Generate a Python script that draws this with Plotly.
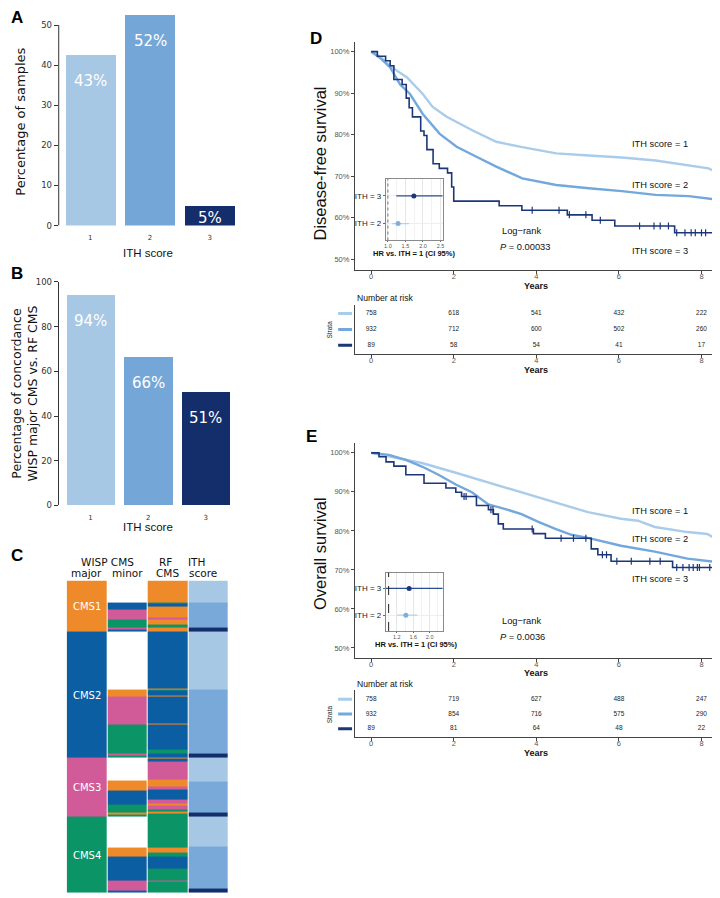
import plotly.graph_objects as go

# page is shown with an 8px body margin: the figure covers reference pixels 8..720 / 8..898
OFF = 8
W, H = 720, 898
FW, FH = W - OFF, H - OFF

# ---------------- data ----------------
ith_scores = [1, 2, 3]
ith_tick_labels = ["1", "2", "3"]
pct_samples = [42.6, 52.4, 5.0]          # panel A
pct_concordance = [94.2, 66.4, 50.6]     # panel B

# panel C : runs (category, number of rows) from top to bottom for each column
wisp_major_runs = [("CMS1", 52), ("CMS2", 127), ("CMS3", 60), ("CMS4", 77)]
wisp_minor_runs = [
    ("none", 22), ("CMS2", 7), ("CMS3", 10), ("CMS4", 9), ("CMS3", 2), ("CMS2", 2),
    ("none", 58), ("CMS1", 7), ("CMS3", 29), ("CMS4", 29), ("CMS3", 2), ("CMS4", 2),
    ("none", 23), ("CMS1", 10), ("CMS2", 15), ("CMS4", 8), ("CMS1", 2), ("CMS4", 2),
    ("none", 31), ("CMS1", 9), ("CMS2", 24), ("CMS3", 8), ("CMS1", 1), ("CMS3", 2), ("CMS2", 2),
]
rf_cms_runs = [
    ("CMS1", 22), ("CMS4", 1), ("CMS2", 3), ("CMS1", 11), ("CMS3", 2), ("CMS1", 6), ("CMS4", 3), ("CMS1", 4),
    ("CMS2", 57), ("CMS1", 1), ("CMS4", 1), ("CMS2", 5), ("CMS1", 1), ("CMS2", 28), ("CMS1", 1), ("CMS2", 25),
    ("CMS4", 4), ("CMS2", 4),
    ("CMS1", 1), ("CMS2", 3), ("CMS3", 18), ("CMS1", 7), ("CMS3", 3), ("CMS2", 10), ("CMS3", 5), ("CMS1", 2),
    ("CMS3", 4), ("CMS4", 2), ("CMS1", 2), ("CMS4", 3),
    ("CMS4", 31), ("CMS1", 5), ("CMS4", 4), ("CMS2", 12), ("CMS4", 12), ("CMS3", 1), ("CMS4", 7), ("CMS1", 1),
    ("CMS4", 4),
]
ith_runs = [
    ("ITH1", 22), ("ITH2", 26), ("ITH3", 4),
    ("ITH1", 58), ("ITH2", 65), ("ITH3", 4),
    ("ITH1", 24), ("ITH2", 32), ("ITH3", 4),
    ("ITH1", 30), ("ITH2", 42), ("ITH3", 5),
]

# panel D : disease-free survival (years, %)
dfs_t1 = [0, 0.1, 0.25, 0.46, 0.87, 1.25, 1.49, 1.83, 2.46, 3.03, 3.66, 4.48, 5.27, 6.07, 6.89, 7.69, 8.17, 8.45]
dfs_s1 = [100, 99.5, 98.5, 96.5, 93.8, 89.8, 86.7, 84.3, 81.0, 78.3, 77.0, 75.5, 75.0, 74.5, 73.8, 72.6, 71.9, 70.6]
dfs_t2 = [0, 0.1, 0.25, 0.46, 0.7, 0.94, 1.25, 1.66, 2.07, 2.55, 3.03, 3.66, 4.48, 5.27, 6.07, 6.89, 7.69, 8.45]
dfs_s2 = [100, 99.3, 98.2, 96.2, 92.1, 89.8, 85.0, 80.2, 77.1, 74.7, 72.3, 69.5, 67.9, 67.1, 66.4, 65.5, 65.2, 64.3]
dfs_t3 = [0, 0.15, 0.35, 0.46, 0.55, 0.75, 0.85, 0.92, 1.0, 1.2, 1.28, 1.35, 1.5, 1.65, 1.85, 1.95, 2.0,
          3.1, 3.65, 4.75, 5.35, 5.9, 7.35, 8.5]
dfs_s3 = [100, 98.9, 97.8, 96.6, 93.3, 92.1, 88.8, 86.5, 84.3, 80.9, 79.8, 76.4, 73.0, 71.9, 70.8, 67.4, 64.0,
          62.9, 61.8, 60.7, 59.4, 58.0, 56.4, 56.4]
dfs_cens3 = [3.9, 4.55, 4.8, 5.2, 5.55, 6.5, 6.85, 7.0, 7.2, 7.4, 7.6, 7.75, 7.85, 8.0, 8.1, 8.3]

# panel E : overall survival (years, %)
os_t1 = [0, 0.43, 1.23, 2.05, 2.84, 3.64, 4.46, 5.25, 6.05, 6.46, 6.87, 7.66, 8.14, 8.45]
os_s1 = [100, 99.1, 97.4, 94.9, 92.4, 89.9, 87.3, 84.8, 83.1, 82.6, 81.0, 79.7, 79.2, 77.4]
os_t2 = [0, 0.43, 0.84, 1.23, 1.63, 2.05, 2.44, 2.84, 3.25, 3.64, 4.05, 4.46, 4.85, 5.25, 6.05, 6.87, 7.66, 8.45]
os_s2 = [100, 99.5, 98.2, 96.5, 94.4, 91.9, 89.9, 86.8, 85.6, 84.3, 82.3, 80.5, 79.0, 78.2, 76.2, 74.7, 72.9, 71.9]
os_t3 = [0, 0.19, 0.36, 0.55, 0.84, 1.28, 1.81, 2.05, 2.19, 2.55, 2.84, 2.96, 3.08, 3.2, 3.93, 4.22,
         5.33, 5.49, 5.81, 7.3, 8.5]
os_s3 = [100, 99.0, 97.7, 96.6, 94.4, 92.2, 91.0, 89.9, 88.8, 86.5, 85.4, 84.3, 81.8, 80.5, 79.3, 78.1,
         75.4, 73.9, 72.2, 70.6, 70.6]
os_cens3 = [2.25, 2.3, 2.9, 2.95, 3.9, 4.6, 4.9, 5.2, 5.6, 5.7, 5.95, 6.3, 6.75, 7.0, 7.4, 7.55, 7.7, 7.8,
            7.9, 7.95, 8.2]

# hazard ratios vs ITH = 1 (ITH = 2, ITH = 3)
hr_labels = ["ITH = 2", "ITH = 3"]
dfs_hr = [1.29, 1.74]
dfs_lo = [1.12, 1.24]
dfs_hi = [1.60, 2.60]
os_hr = [1.42, 1.50]
os_lo = [1.20, 0.90]
os_hi = [1.70, 2.40]

risk_years = [0, 2, 4, 6, 8]
surv_ticks = [50, 60, 70, 80, 90, 100]
dfs_risk = [[758, 618, 541, 432, 222], [932, 712, 600, 502, 260], [89, 58, 54, 41, 17]]
os_risk = [[758, 719, 627, 488, 247], [932, 854, 716, 575, 290], [89, 81, 64, 48, 22]]
km_labels = ["ITH score = 1", "ITH score = 2", "ITH score = 3"]
dfs_p = "0.00033"
os_p = "0.0036"

# ---------------- style ----------------
BAR_COLORS = ["#A6C8E4", "#74A7D7", "#132E6B"]
KM_COLORS = ["#A9CCEB", "#72A8DC", "#1B3679"]
HR_POINT = ["#7FB0DD", "#1B3679"]
HR_LINE = ["#B3D2EE", "#2A4C92"]
code_of = {"none": 0, "CMS1": 1, "CMS2": 2, "CMS3": 3, "CMS4": 4, "ITH1": 5, "ITH2": 6, "ITH3": 7}
code_colors = ["#FFFFFF", "#EE8A2A", "#0B5EA1", "#D15A98", "#0B9465", "#A7C8E4", "#78A9D8", "#122F6C"]
DJ = "DejaVu Sans"
LS = "Liberation Sans, Arial, sans-serif"
NR = "Liberation Sans Narrow, Liberation Sans, Arial, sans-serif"
AX = "#444444"


def X(px):
    return (px - OFF) / FW


def Y(py):
    return 1 - (py - OFF) / FH


def xd(a, b):
    return [max(0.0, X(a)), min(1.0, X(b))]


def yd(top, bottom):
    return [max(0.0, Y(bottom)), min(1.0, Y(top))]


fig = go.Figure()
annotations = []
shapes = []


def ann(text, px, py, size, family=NR, color="#111111", xanchor="center", yanchor="middle", angle=0):
    annotations.append(dict(text=text, x=X(px), y=Y(py), xref="paper", yref="paper", showarrow=False,
                            xanchor=xanchor, yanchor=yanchor, textangle=angle,
                            font=dict(size=size, family=family, color=color)))


# ---------------- panel A & B ----------------
for vals, xa, ya in [(pct_samples, "x", "y"), (pct_concordance, "x2", "y2")]:
    fig.add_trace(go.Bar(x=ith_scores, y=vals, marker=dict(color=BAR_COLORS, line=dict(width=0)),
                         width=0.84, xaxis=xa, yaxis=ya, hoverinfo="skip"))

px_per_unit = {"y": 4.06, "y2": 2.26}
for vals, xa, ya in [(pct_samples, "x", "y"), (pct_concordance, "x2", "y2")]:
    for s, v in zip(ith_scores, vals):
        hpx = v * px_per_unit[ya]
        shift = -26 if hpx > 60 else -(hpx / 2 + 2)
        annotations.append(dict(text=f"{v:.0f}%", x=s, y=v, xref=xa, yref=ya, showarrow=False,
                                yshift=shift, font=dict(size=15, family=DJ, color="white")))

shapes.append(dict(type="line", xref="x domain", x0=0, x1=0, yref="y", y0=0, y1=50,
                   line=dict(color="#333333", width=1)))

# ---------------- panel C heatmap ----------------
def expand(runs):
    out = []
    for name, n in runs:
        out += [code_of[name]] * n
    return out


cols = [expand(wisp_major_runs), expand(wisp_minor_runs), expand(rf_cms_runs), expand(ith_runs)]
nrows = min(len(c) for c in cols)
z = [[cols[j][i] for j in range(4)] for i in range(nrows)]
ncodes = len(code_colors)
cscale = []
for i, c in enumerate(code_colors):
    cscale.append([i / ncodes, c])
    cscale.append([(i + 1) / ncodes, c])
fig.add_trace(go.Heatmap(z=z, x=[0, 1, 2, 3], y=list(range(nrows)), colorscale=cscale,
                         zmin=-0.5, zmax=ncodes - 0.5, showscale=False, xgap=1,
                         xaxis="x3", yaxis="y3", hoverinfo="skip"))
start = 0
for name, n in wisp_major_runs:
    annotations.append(dict(text=name, x=0, y=start + n / 2, xref="x3", yref="y3", showarrow=False,
                            font=dict(size=10, family=DJ, color="white")))
    start += n

# ---------------- KM panels ----------------
def step_at(ts, ss, t):
    val = ss[0]
    for ti, si in zip(ts, ss):
        if ti <= t:
            val = si
    return val


def km_panel(curves, cens3, xa, ya):
    for k, (t, s) in enumerate(curves):
        shape = "hv" if k == 2 else "linear"
        width = 1.6 if k == 2 else 2.4
        fig.add_trace(go.Scatter(x=t, y=s, mode="lines", line=dict(color=KM_COLORS[k], width=width, shape=shape),
                                 xaxis=xa, yaxis=ya, hoverinfo="skip"))
    t3, s3 = curves[2]
    fig.add_trace(go.Scatter(x=cens3, y=[step_at(t3, s3, c) for c in cens3], mode="markers",
                             marker=dict(symbol="line-ns-open", size=5, color=KM_COLORS[2],
                                         line=dict(color=KM_COLORS[2], width=1.2)),
                             xaxis=xa, yaxis=ya, hoverinfo="skip"))


def hr_panel(hr, lo, hi, xa, ya):
    for i in range(2):
        r = i + 1
        fig.add_trace(go.Scatter(x=[lo[i], hi[i]], y=[r, r], mode="lines",
                                 line=dict(color=HR_LINE[i], width=1.3), xaxis=xa, yaxis=ya, hoverinfo="skip"))
        fig.add_trace(go.Scatter(x=[hr[i]], y=[r], mode="markers",
                                 marker=dict(color=HR_POINT[i], size=5), xaxis=xa, yaxis=ya, hoverinfo="skip"))


def risk_panel(table, xa, ya):
    for k, row in enumerate(table):
        fig.add_trace(go.Scatter(x=risk_years, y=[3 - k] * len(row), mode="text", text=[str(v) for v in row],
                                 textfont=dict(size=6.5, family=NR, color="#222222"), cliponaxis=False,
                                 xaxis=xa, yaxis=ya, hoverinfo="skip"))
        shapes.append(dict(type="line", xref="paper", x0=X(338), x1=X(352), yref=ya, y0=3 - k, y1=3 - k,
                           line=dict(color=KM_COLORS[k], width=3)))


km_panel([(dfs_t1, dfs_s1), (dfs_t2, dfs_s2), (dfs_t3, dfs_s3)], dfs_cens3, "x4", "y4")
hr_panel(dfs_hr, dfs_lo, dfs_hi, "x5", "y5")
risk_panel(dfs_risk, "x6", "y6")
km_panel([(os_t1, os_s1), (os_t2, os_s2), (os_t3, os_s3)], os_cens3, "x7", "y7")
hr_panel(os_hr, os_lo, os_hi, "x8", "y8")
risk_panel(os_risk, "x9", "y9")

shapes.append(dict(type="line", xref="x5", x0=1, x1=1, yref="y5 domain", y0=0, y1=1,
                   line=dict(color="#888888", width=1.2, dash="dot")))
shapes.append(dict(type="line", xref="x8", x0=1, x1=1, yref="y8 domain", y0=0, y1=1,
                   line=dict(color="#222222", width=1, dash="dash")))

# ---------------- axes ----------------
def bar_x(dom, rng, anchor):
    return dict(domain=dom, range=rng, anchor=anchor, tickvals=ith_scores, ticktext=ith_tick_labels,
                showline=False, showgrid=False, zeroline=False, ticks="outside", ticklen=5,
                tickcolor="rgba(0,0,0,0)", tickfont=dict(size=7, family=DJ, color="#333333"))


def bar_y(dom, rng, anchor, tv, line):
    return dict(domain=dom, range=rng, anchor=anchor, tickvals=tv, showline=line, linecolor="#333333",
                linewidth=1, showgrid=False, zeroline=False, ticks="outside", ticklen=4, tickcolor="#333333",
                tickfont=dict(size=8.5, family=DJ, color="#333333"))


def km_x(dom, anchor):
    return dict(domain=dom, range=[-0.39, 8.4], anchor=anchor, tickvals=risk_years, showline=True,
                linecolor=AX, linewidth=1.2, showgrid=False, zeroline=False, ticks="outside", ticklen=3,
                ticklabelstandoff=-4,
                tickcolor=AX, tickfont=dict(size=7.5, family=NR, color="#555555"))


def hidden(dom, rng, anchor):
    return dict(domain=dom, range=rng, anchor=anchor, visible=False)


def hr_x(dom, rng, tv, tt, anchor):
    return dict(domain=dom, range=rng, anchor=anchor, tickvals=tv, ticktext=tt, showline=True, mirror=True,
                linecolor="#8A8A8A", linewidth=1, showgrid=True, gridcolor="#E6E6E6", gridwidth=0.8,
                minor=dict(showgrid=True, gridcolor="#F2F2F2", dtick=(tv[1] - tv[0]) / 2),
                zeroline=False, ticks="outside", ticklen=1, tickcolor="#666666", ticklabelstandoff=-1,
                tickfont=dict(size=5.5, family=NR, color="#555555"))


def hr_y(dom, rng, anchor):
    return dict(domain=dom, range=rng, anchor=anchor, tickvals=[1, 2], ticktext=hr_labels, showline=True,
                mirror=True, linecolor="#8A8A8A", linewidth=1, showgrid=True, gridcolor="#EEEEEE",
                zeroline=False, ticks="outside", ticklen=2, tickcolor="#666666",
                tickfont=dict(size=8, family=NR, color="#222222"))


def km_y(dom, rng, anchor):
    return dict(domain=dom, range=rng, anchor=anchor, tickvals=surv_ticks,
                ticktext=[f"{v}%" for v in surv_ticks],
                showline=True, linecolor=AX, linewidth=1.2, showgrid=False, zeroline=False, ticks="outside",
                ticklen=3, tickcolor=AX, tickfont=dict(size=7.5, family=NR, color="#555555"))


def risk_y(dom, rng, anchor):
    return dict(domain=dom, range=rng, anchor=anchor, showticklabels=False, showline=True, linecolor=AX,
                linewidth=1.2, showgrid=False, zeroline=False, ticks="")


fig.update_layout(
    width=FW, height=FH, margin=dict(l=0, r=0, t=0, b=0), paper_bgcolor="white", plot_bgcolor="rgba(0,0,0,0)",
    showlegend=False, bargap=0,
    xaxis=bar_x(xd(57, 237), [0.47, 3.47], "y"),
    yaxis=bar_y(yd(8, 223), [0, 53], "x", [0, 10, 20, 30, 40, 50], False),
    xaxis2=bar_x(xd(57, 231), [0.45, 3.45], "y2"),
    yaxis2=bar_y(yd(280, 506), [0, 100], "x2", [0, 20, 40, 60, 80, 100], True),
    xaxis3=hidden(xd(65, 228), [-0.5, 3.5], "y3"),
    yaxis3=hidden(yd(582, 898), [nrows - 0.5, -0.5], "x3"),
    xaxis4=km_x(xd(355, 720), "y4"),
    yaxis4=km_y(yd(37, 268), [47.4, 102.4], "x4"),
    xaxis5=hr_x(xd(386, 443), [0.943, 2.557], [1.0, 1.5, 2.0, 2.5], ["1.0", "1.5", "2.0", "2.5"], "y5"),
    yaxis5=hr_y(yd(176, 238), [0.39, 2.61], "x5"),
    xaxis6=km_x(xd(355, 720), "y6"),
    yaxis6=risk_y(yd(303, 353), [0.44, 3.56], "x6"),
    xaxis7=km_x(xd(355, 720), "y7"),
    yaxis7=km_y(yd(443, 660), [47.5, 102.5], "x7"),
    xaxis8=hr_x(xd(386, 443), [0.933, 2.315], [1.2, 1.6, 2.0], ["1.2", "1.6", "2.0"], "y8"),
    yaxis8=hr_y(yd(574, 633), [0.407, 2.593], "x8"),
    xaxis9=km_x(xd(355, 720), "y9"),
    yaxis9=risk_y(yd(693, 740), [0.467, 3.6], "x9"),
)

# ---------------- text ----------------
for letter, px, py in [("A", 15, 13), ("B", 15, 271), ("C", 15, 557), ("D", 316, 34), ("E", 311, 436)]:
    ann(f"<b>{letter}</b>", px, py, 17, LS, "#000000")

ann("Percentage of samples", 19, 118, 13, DJ, "#111111", angle=-90)
ann("ITH score", 147, 251, 11.5, LS, "#111111")
ann("Percentage of concordance<br>WISP major CMS vs. RF CMS", 23, 393, 12.5, DJ, "#111111", angle=-90)
ann("ITH score", 147, 528, 11.5, LS, "#111111")

for txt, px, py in [("WISP CMS", 106, 563), ("major", 85, 574), ("minor", 126, 574),
                    ("RF", 164, 563), ("CMS", 166, 574), ("ITH", 196, 563), ("score", 202, 574)]:
    ann(txt, px, py, 10.5, DJ, "#111111")

# panel D text
ann("Disease-free survival", 320, 160, 16.5, NR, "#111111", angle=-90)
for txt, py in zip(km_labels, [140, 182, 249]):
    ann(txt, 662, py, 9.3, NR, "#111111")
ann("Log\u2212rank", 522, 228, 9.3, NR, "#111111")
ann(f"<i>P</i> = {dfs_p}", 526, 245, 9.3, NR, "#111111")
ann("<b>HR vs. ITH = 1 (CI 95%)</b>", 414, 251, 7.5, NR, "#111111")
ann("<b>Years</b>", 537, 284.5, 9, NR, "#111111")
ann("Number at risk", 355, 296, 8.6, NR, "#111111", xanchor="left")
ann("Strata", 329, 328, 6.5, NR, "#222222", angle=-90)
ann("<b>Years</b>", 537, 369.5, 9, NR, "#111111")

# panel E text
ann("Overall survival", 320, 555, 16.5, NR, "#111111", angle=-90)
for txt, py in zip(km_labels, [512, 540, 580]):
    ann(txt, 662, py, 9.3, NR, "#111111")
ann("Log\u2212rank", 522, 623, 9.3, NR, "#111111")
ann(f"<i>P</i> = {os_p}", 523, 639, 9.3, NR, "#111111")
ann("<b>HR vs. ITH = 1 (CI 95%)</b>", 416, 646.5, 7.5, NR, "#111111")
ann("<b>Years</b>", 537, 675.5, 9, NR, "#111111")
ann("Number at risk", 355, 687, 8.6, NR, "#111111", xanchor="left")
ann("Strata", 329, 717, 6.5, NR, "#222222", angle=-90)
ann("<b>Years</b>", 537, 756.5, 9, NR, "#111111")

fig.update_layout(annotations=annotations, shapes=shapes)
fig.write_html("out.html")
